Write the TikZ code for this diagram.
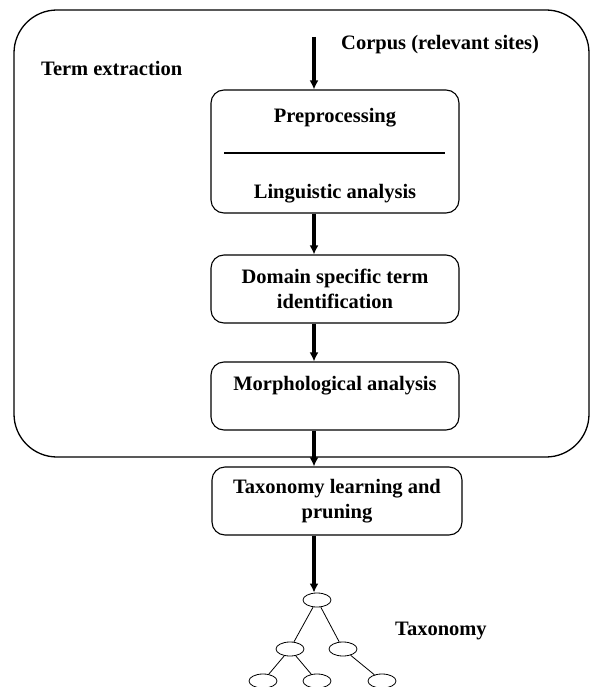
\documentclass[tikz,border=0pt]{standalone}
\usepackage{fontspec}
\setmainfont{Liberation Serif}
\usetikzlibrary{arrows.meta,shapes.geometric}

\begin{document}
\begin{tikzpicture}[x=1pt,y=-1pt,
  stage/.style={draw, rounded corners=13pt, line width=1.1pt, minimum width=248pt, align=center},
  caption/.style={anchor=base west, inner sep=0pt},
  flow/.style={draw, line width=3.4pt, -{Latex[length=9pt,width=9pt]}},
  leaf/.style={draw, ellipse, line width=0.8pt, minimum width=28pt, minimum height=14pt, inner sep=0pt}]
\bfseries\fontsize{20.5}{24.5}\selectfont
\useasboundingbox (0,0) rectangle (590,687);

% term extraction frame
\node[draw, rounded corners=43pt, line width=1.3pt, minimum width=575pt, minimum height=447pt] (frame) at (301.5,233.5) {};
\node[caption] (termlbl) at (41,76) {Term extraction};

\coordinate (corpus) at (314,37);
\node[caption] (corpuslbl) at (341,50) {Corpus (relevant sites)};

\node[stage, minimum height=123pt] (prep) at (335,151.5) {};
\node[anchor=base] (preptxt) at (335,123) {Preprocessing};
\node[anchor=base] (lingtxt) at (335,198) {Linguistic analysis};
\draw[line width=1.3pt] (224,153) -- (445,153);

\node[stage, minimum height=68pt] (domain) at (335,289) {Domain specific term\\identification};

\node[stage, minimum height=68pt] (morph) at (335,396) {};
\node[anchor=base] (morphtxt) at (335,390) {Morphological analysis};

\node[stage, minimum width=250pt, minimum height=68pt] (taxo) at (337,501) {Taxonomy learning and\\pruning};

% taxonomy tree
\node[leaf] (root) at (317,600) {};
\node[leaf] (l1) at (290,649) {};
\node[leaf] (r1) at (343,649) {};
\node[leaf] (l2) at (263,681) {};
\node[leaf] (m2) at (317,681) {};
\node[leaf] (r2) at (382,681) {};
\node[caption] (taxlbl) at (395,635) {Taxonomy};

\path[draw,line width=0.8pt] (root) -- (l1);
\path[draw,line width=0.8pt] (root) -- (r1);
\path[draw,line width=0.8pt] (l1) -- (l2);
\path[draw,line width=0.8pt] (l1) -- (m2);
\path[draw,line width=0.8pt] (r1) -- (r2);

\path[flow] (corpus) -- (prep.north -| corpus);
\path[flow] (prep.south -| corpus) -- (domain.north -| corpus);
\path[flow] (domain.south -| corpus) -- (morph.north -| corpus);
\path[flow] (morph.south -| corpus) -- (taxo.north -| corpus);
\path[flow] (taxo.south -| corpus) -- (root.north -| corpus);
\end{tikzpicture}
\end{document}
